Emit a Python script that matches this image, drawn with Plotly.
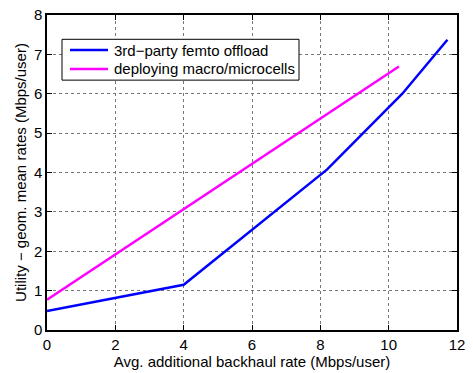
import plotly.graph_objects as go

femto_x = [0, 4, 8.2, 10.4, 11.72]
femto_y = [0.48, 1.15, 4.08, 6.0, 7.37]
macro_x = [0, 5.1, 10.3]
macro_y = [0.77, 3.7, 6.69]
x_ticks = [0, 2, 4, 6, 8, 10, 12]
y_ticks = [0, 1, 2, 3, 4, 5, 6, 7, 8]
series_names = ["3rd\u2212party femto offload", "deploying macro/microcells"]
series_colors = ["#0000FF", "#FF00FF"]

W, H = 473, 373
L, R, T, B = 47, 16, 6, 43
PW, PH = W - L - R, H - T - B


def px(xp):
    return (xp - L) / PW


def py(yp):
    return (H - B - yp) / PH


fig = go.Figure()
fig.add_trace(go.Scatter(x=femto_x, y=femto_y, mode="lines", name=series_names[0],
                         line=dict(color=series_colors[0], width=2.5), showlegend=False))
fig.add_trace(go.Scatter(x=macro_x, y=macro_y, mode="lines", name=series_names[1],
                         line=dict(color=series_colors[1], width=2.5), showlegend=False))

axis_common = dict(showline=True, linecolor="black", linewidth=1.5, mirror="ticks",
                   ticks="inside", ticklen=5, tickcolor="black", tickwidth=1,
                   showgrid=True, gridcolor="#777777", griddash="dot", gridwidth=1,
                   zeroline=False, tickfont=dict(size=15, color="black"),
                   ticklabeloverflow="allow")

fig.update_xaxes(range=[0, 12], tickvals=x_ticks,
                 title=dict(text="Avg. additional backhaul rate (Mbps/user)", font=dict(size=15, color="black"), standoff=3),
                 **axis_common)
fig.update_yaxes(range=[0, 8], tickvals=y_ticks,
                 title=dict(text="Utility \u2212 geom. mean rates (Mbps/user)", font=dict(size=15, color="black"), standoff=4),
                 **axis_common)

# manual legend (MATLAB style)
shapes = [dict(type="rect", xref="paper", yref="paper", x0=px(62), x1=px(299), y0=py(31), y1=py(73),
               line=dict(color="black", width=1), fillcolor="white", layer="above")]
annotations = []
rows = [42, 61.5]
for name, color, ry in zip(series_names, series_colors, rows):
    shapes.append(dict(type="line", xref="paper", yref="paper", x0=px(70), x1=px(108), y0=py(ry), y1=py(ry),
                       line=dict(color=color, width=2.5), layer="above"))
    annotations.append(dict(xref="paper", yref="paper", x=px(112), y=py(ry), xanchor="left", yanchor="middle",
                            text=name, showarrow=False, font=dict(size=15, color="black")))

fig.update_layout(width=W, height=H, margin=dict(l=L, r=R, t=T, b=B),
                  paper_bgcolor="white", plot_bgcolor="white",
                  font=dict(family="Liberation Sans, Arial, sans-serif", size=15, color="black"),
                  shapes=shapes, annotations=annotations, showlegend=False)

fig.write_html("out.html")
